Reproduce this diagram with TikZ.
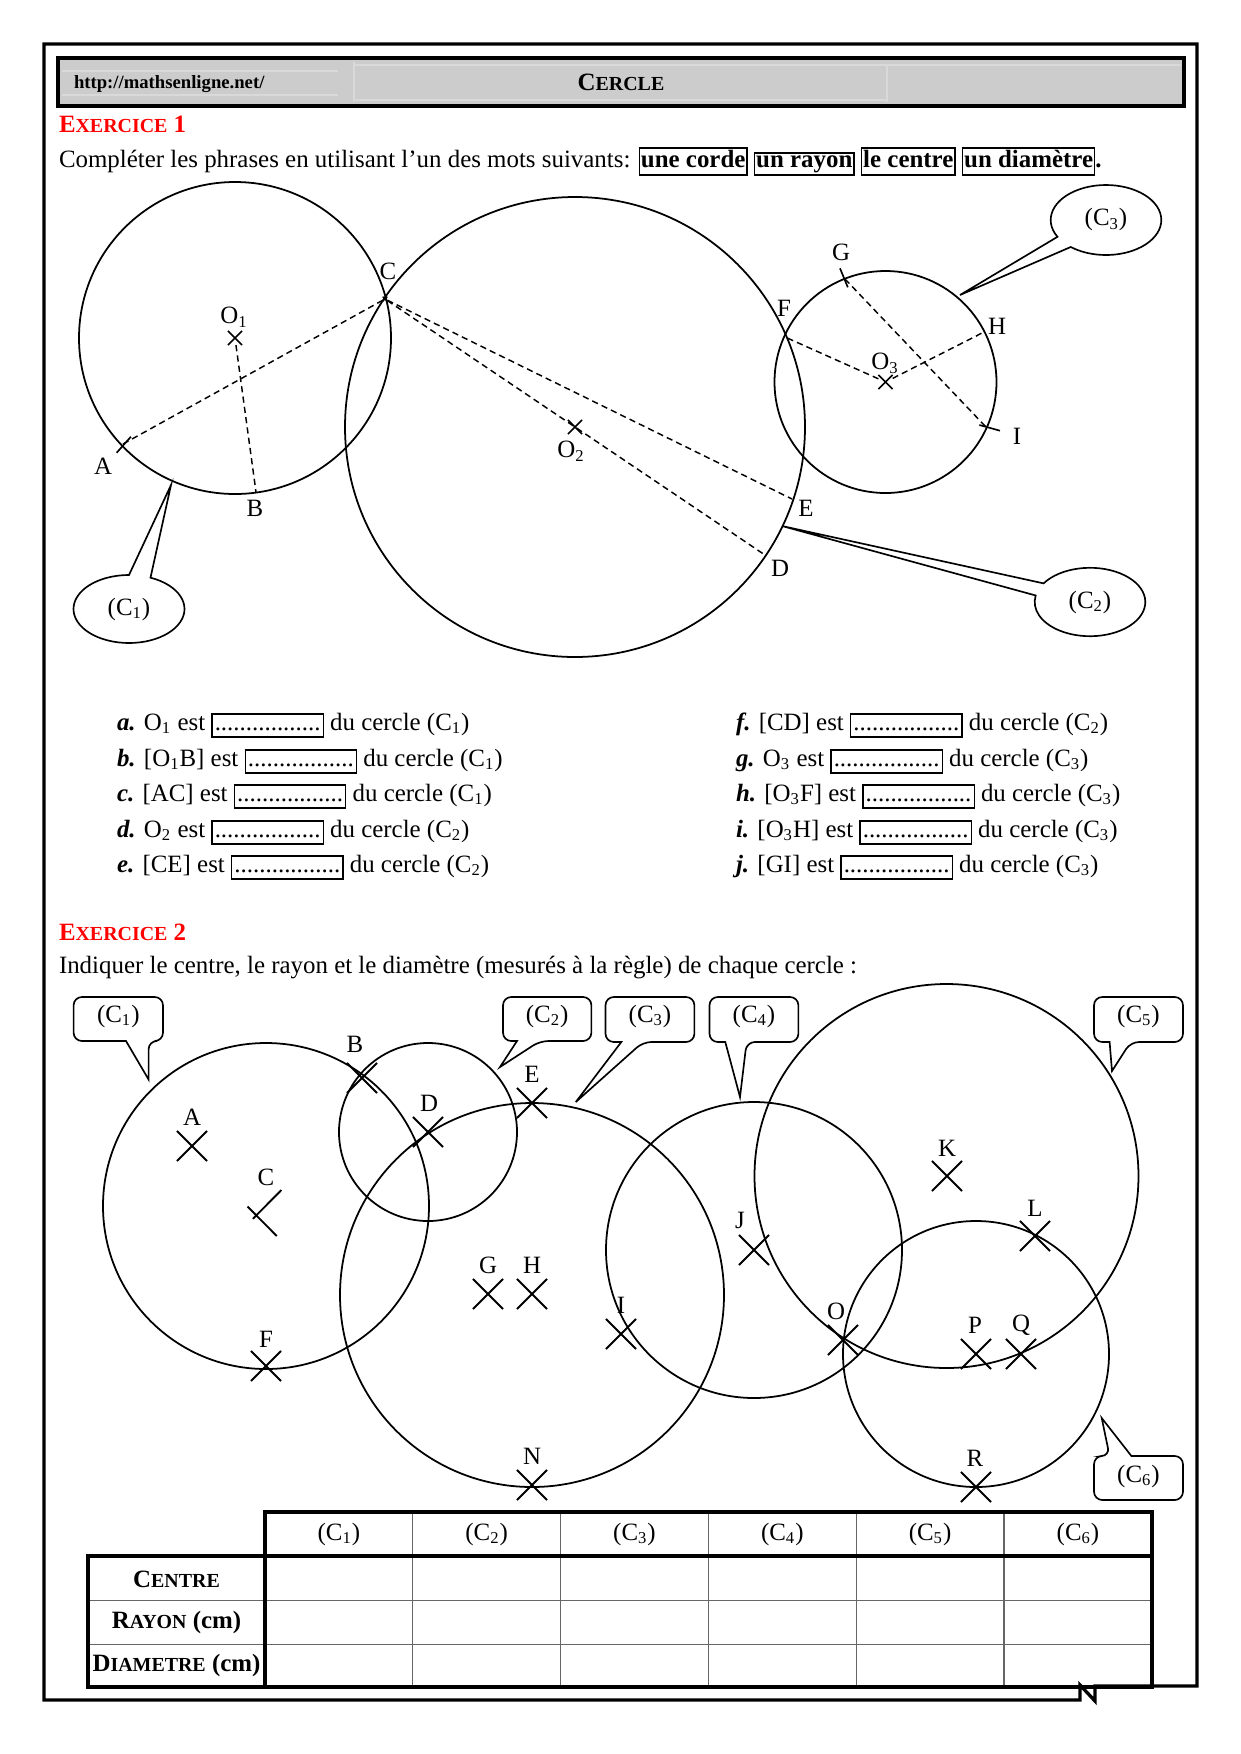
\documentclass[tikz,border=0pt]{standalone}
\usepackage{fontspec}
\setmainfont{Liberation Serif}
\usetikzlibrary{shapes.misc,calc}
\newcommand\pxl{0.169333mm}
\newcommand\smc[2]{#1{\fontsize{9.6}{11}\selectfont #2}}
\newcommand\qlab[1]{\textbf{\textit{#1}}}
\newcommand\dbox{\fbox{\rule[-2.6pt]{0pt}{9.5pt}\makebox[52pt]{.................}}}
\newcommand\wbox[1]{\fbox{\rule[-3pt]{0pt}{9pt}#1}}
% x1 y1 x2 y2 baseleft baseright tipx tipy  (tail on the bottom edge)
\newcommand\calloutB[8]{%
  \draw[co,rounded corners=4pt] ({(#1+#3)/2},#2) -- (#3,#2) -- (#3,#4) -- (#6,#4)
     [sharp corners] -- (#7,#8) -- (#5,#4) [rounded corners=4pt] -- (#1,#4) -- (#1,#2) -- cycle;}
\setlength\fboxsep{0.5pt}
\setlength\fboxrule{0.6pt}
\begin{document}
\begin{tikzpicture}[x=0.169333mm, y=-0.169333mm,
  font=\fontsize{12}{14.4}\selectfont,
  every node/.style={inner sep=0pt, outer sep=0pt},
  frame/.style={line width=1.6pt},
  circ/.style={line width=0.85pt},
  dl/.style={line width=0.7pt, dash pattern=on 3pt off 2pt},
  tickm/.style={line width=0.8pt},
  xs/.style={draw, cross out, line width=0.8pt, minimum size=2.4mm},
  xb/.style={draw, cross out, line width=0.9pt, minimum size=5.1mm},
  bub/.style={line width=0.8pt},
  co/.style={line width=0.8pt},
  thickrule/.style={line width=1.6pt},
  thinrule/.style={line width=0.5pt, black!60},
  exo/.style={anchor=base west, text=red, font=\bfseries\fontsize{12}{14.4}\selectfont},
  txt/.style={anchor=base west}
]
\useasboundingbox (0,0) rectangle (1240,1754);

% ---------- page frame ----------
\draw[frame] (44,44) -- (1197,44) -- (1197,1686) -- (1095,1686) -- (1095,1701)
   -- (1080,1685) -- (1080,1700) -- (44,1700) -- cycle;

% ---------- header ----------
\draw[line width=1.6pt, fill=gray!40] (58,58) rectangle (1184,106);
\draw[gray!30, line width=0.5pt] (354,62) -- (354,102) (887,66) -- (887,102)
   (354,65) -- (1181,65) (354,100) -- (887,100) (62,71) -- (338,71) (62,95) -- (338,95);
\node[anchor=base west, font=\bfseries\fontsize{9}{11}\selectfont] (url) at (74,88) {http://mathsenligne.net/};
\node[anchor=base, font=\bfseries\fontsize{12}{14.4}\selectfont] (title) at (621,90) {\smc{C}{ERCLE}};

% ---------- exercice 1 ----------
\node[exo] (ex1) at (59,132) {\smc{E}{XERCICE} 1};
\node[txt] (cons1) at (59,167) {Compléter les phrases en utilisant l’un des mots suivants: \textbf{\wbox{une corde} \wbox{un rayon} \wbox{le centre} \wbox{un diamètre}.}};

% centres
\node[xs] (O1) at (235,338) {};
\node[xs] (O2) at (575,427) {};
\node[xs] (O3) at (885.5,382) {};
\node[draw, cross out, line width=0.6pt, minimum size=0.8mm] (C) at (385,299) {};
% points
\coordinate (A) at (123,444);
\coordinate (B) at (256,492);
\coordinate (D) at (765,555);
\coordinate (E) at (792,499);
\coordinate (F) at (785,337);
\coordinate (G) at (845,279);
\coordinate (H) at (984,332);
\coordinate (I) at (986,427);

% circles
\draw[circ] (O1) circle[radius=156*\pxl];
\draw[circ] (O2) circle[radius=230*\pxl];
\draw[circ] (O3) circle[radius=111*\pxl];

% segments
\draw[dl] (A) -- (C);
\draw[dl] (O1) -- (B);
\draw[dl] (C) -- (D);
\draw[dl] (C) -- (E);
\draw[dl] (O3) -- (F);
\draw[dl] (O3) -- (H);
\draw[dl] (G) -- (I);
% little marks
\draw[tickm] (116.7,452.7) -- (130.9,436.7);
\draw[tickm] (840,268.3) -- (847.8,287.3);
\draw[tickm] (979.4,425) -- (1000,430.7);

% labels
\node (lO1) at (234,317) {O\textsubscript{1}};
\node (lC) at (388,271) {C};
\node (lA) at (103,466) {A};
\node (lB) at (255,508) {B};
\node (lO2) at (571,451) {O\textsubscript{2}};
\node (lD) at (780,568) {D};
\node (lE) at (806,508) {E};
\node (lF) at (784,308) {F};
\node (lG) at (841,252) {G};
\node (lH) at (997,326) {H};
\node (lI) at (1017,436) {I};
\node (lO3) at (885,363) {O\textsubscript{3}};

% bubbles
\coordinate (e1) at (129,609); \coordinate (t1) at (171,485);
\draw[bub] (t1) -- ($(e1)+(292.8:55.5 and 34)$) arc[start angle=292.8, end angle=630, x radius=55.5, y radius=34] -- cycle;
\node (b1) at (e1) {(C\textsubscript{1})};
\coordinate (e2) at (1090,602); \coordinate (t2) at (782,526);
\draw[bub] (t2) -- ($(e2)+(213:55.3 and 34.2)$) arc[start angle=213, end angle=551, x radius=55.3, y radius=34.2] -- cycle;
\node (b2) at (e2) {(C\textsubscript{2})};
\coordinate (e3) at (1106,220); \coordinate (t3) at (960,295);
\draw[bub] (t3) -- ($(e3)+(151.3:55.3 and 35)$) arc[start angle=151.3, end angle=489.6, x radius=55.3, y radius=35] -- cycle;
\node (b3) at (e3) {(C\textsubscript{3})};

% questions
\node[txt] (qa) at (117,730) {\qlab{a.} O\textsubscript{1} est \dbox{} du cercle (C\textsubscript{1})};
\node[txt] (qb) at (117,766) {\qlab{b.} [O\textsubscript{1}B] est \dbox{} du cercle (C\textsubscript{1})};
\node[txt] (qc) at (117,801) {\qlab{c.} [AC] est \dbox{} du cercle (C\textsubscript{1})};
\node[txt] (qd) at (117,837) {\qlab{d.} O\textsubscript{2} est \dbox{} du cercle (C\textsubscript{2})};
\node[txt] (qe) at (117,872) {\qlab{e.} [CE] est \dbox{} du cercle (C\textsubscript{2})};
\node[txt] (qf) at (736,730) {\qlab{f.} [CD] est \dbox{} du cercle (C\textsubscript{2})};
\node[txt] (qg) at (736,766) {\qlab{g.} O\textsubscript{3} est \dbox{} du cercle (C\textsubscript{3})};
\node[txt] (qh) at (736,801) {\qlab{h.} [O\textsubscript{3}F] est \dbox{} du cercle (C\textsubscript{3})};
\node[txt] (qi) at (736,837) {\qlab{i.} [O\textsubscript{3}H] est \dbox{} du cercle (C\textsubscript{3})};
\node[txt] (qj) at (736,872) {\qlab{j.} [GI] est \dbox{} du cercle (C\textsubscript{3})};

% ---------- exercice 2 ----------
\node[exo] (ex2) at (59,940) {\smc{E}{XERCICE} 2};
\node[txt] (cons2) at (59,973) {Indiquer le centre, le rayon et le diamètre (mesurés à la règle) de chaque cercle :};

\coordinate (k1) at (266,1206);
\coordinate (k2) at (428,1132);
\coordinate (k3) at (532,1295);
\coordinate (k4) at (754,1250);
\coordinate (k5) at (946.5,1176);
\coordinate (k6) at (976,1354);
\draw[circ] (k1) circle[radius=163*\pxl];
\draw[circ] (k2) circle[radius=89*\pxl];
\draw[circ] (k3) circle[radius=192*\pxl];
\draw[circ] (k4) circle[radius=148*\pxl];
\draw[circ] (k5) circle[radius=192*\pxl];
\draw[circ] (k6) circle[radius=133*\pxl];

% points
\node[xb] (pA) at (192,1146) {};
\node[xb] (pF) at (266,1366) {};
\node[xb] (pB) at (362,1078) {};
\node[xb] (pD) at (428,1132) {};
\node[xb] (pE) at (532,1103) {};
\node[xb] (pG) at (488,1294) {};
\node[xb] (pH) at (532,1294) {};
\node[xb] (pN) at (532,1485) {};
\node[xb] (pI) at (621,1334) {};
\node[xb] (pJ) at (754,1250) {};
\node[xb] (pK) at (947,1176) {};
\node[xb] (pL) at (1035,1236) {};
\node[xb] (pO) at (843,1340) {};
\node[xb] (pP) at (976,1354) {};
\node[xb] (pQ) at (1021,1354) {};
\node[xb] (pR) at (976,1487) {};
\coordinate (pC) at (256,1215);
\draw[line width=0.9pt] (247.5,1206.5) -- (276.8,1236) (252.9,1218.8) -- (281.4,1190);

\node (lA2) at (192,1117) {A};
\node (lC2) at (266,1177) {C};
\node (lF2) at (266,1339) {F};
\node (lB2) at (355,1044) {B};
\node (lD2) at (429,1103) {D};
\node (lE2) at (532,1074) {E};
\node (lG2) at (488,1265) {G};
\node (lH2) at (532,1265) {H};
\node (lN2) at (532,1456) {N};
\node (lI2) at (621,1305) {I};
\node (lJ2) at (740,1220) {J};
\node (lK2) at (947,1148) {K};
\node (lL2) at (1035,1208) {L};
\node (lO2b) at (836,1311) {O};
\node (lP2) at (975,1325) {P};
\node (lQ2) at (1021,1325) {Q};
\node (lR2) at (975,1458) {R};

% callouts
\calloutB{73.6}{997}{163}{1041}{126}{148.6}{148.6}{1079.5}
\node (cc1) at (118.3,1016) {(C\textsubscript{1})};
\calloutB{503}{997}{591.4}{1041}{517}{540}{500}{1067}
\node (cc2) at (547.2,1016) {(C\textsubscript{2})};
\calloutB{605.5}{997}{694.4}{1042}{621.3}{643}{575.8}{1102}
\node (cc3) at (650,1016) {(C\textsubscript{3})};
\calloutB{709.5}{997}{798.4}{1042}{725.3}{746.6}{740}{1097}
\node (cc4) at (754,1016) {(C\textsubscript{4})};
\calloutB{1094}{997}{1183}{1042}{1109.6}{1130.6}{1112}{1071}
\node (cc5) at (1138.5,1016) {(C\textsubscript{5})};
\draw[co,rounded corners=4pt] (1138,1500) -- (1094,1500) -- (1094,1456) -- (1109.6,1456)
   [sharp corners] -- (1101.7,1418) -- (1131.4,1456) [rounded corners=4pt] -- (1183,1456) -- (1183,1500) -- cycle;
\node (cc6) at (1138.5,1476) {(C\textsubscript{6})};

% ---------- table ----------
\draw[thinrule] (412.8,1512) -- (412.8,1687) (560.6,1512) -- (560.6,1687)
   (708.4,1512) -- (708.4,1687) (856.2,1512) -- (856.2,1687) (1004,1512) -- (1004,1687)
   (88,1600) -- (1152,1600) (88,1644) -- (1152,1644);
\draw[thickrule] (265,1512) rectangle (1152,1687);
\draw[thickrule] (88,1556) rectangle (265,1687);
\draw[thickrule] (88,1556) -- (1152,1556);

\node (h1) at (338.9,1534) {(C\textsubscript{1})};
\node (h2) at (486.7,1534) {(C\textsubscript{2})};
\node (h3) at (634.5,1534) {(C\textsubscript{3})};
\node (h4) at (782.3,1534) {(C\textsubscript{4})};
\node (h5) at (930.1,1534) {(C\textsubscript{5})};
\node (h6) at (1078,1534) {(C\textsubscript{6})};
\node[font=\bfseries\fontsize{12}{14.4}\selectfont] (r1) at (176.5,1579) {\smc{C}{ENTRE}};
\node[font=\bfseries\fontsize{12}{14.4}\selectfont] (r2) at (176.5,1622) {\smc{R}{AYON} (cm)};
\node[font=\bfseries\fontsize{12}{14.4}\selectfont] (r3) at (176.5,1665.5) {\smc{D}{IAMETRE} (cm)};
\end{tikzpicture}
\end{document}
